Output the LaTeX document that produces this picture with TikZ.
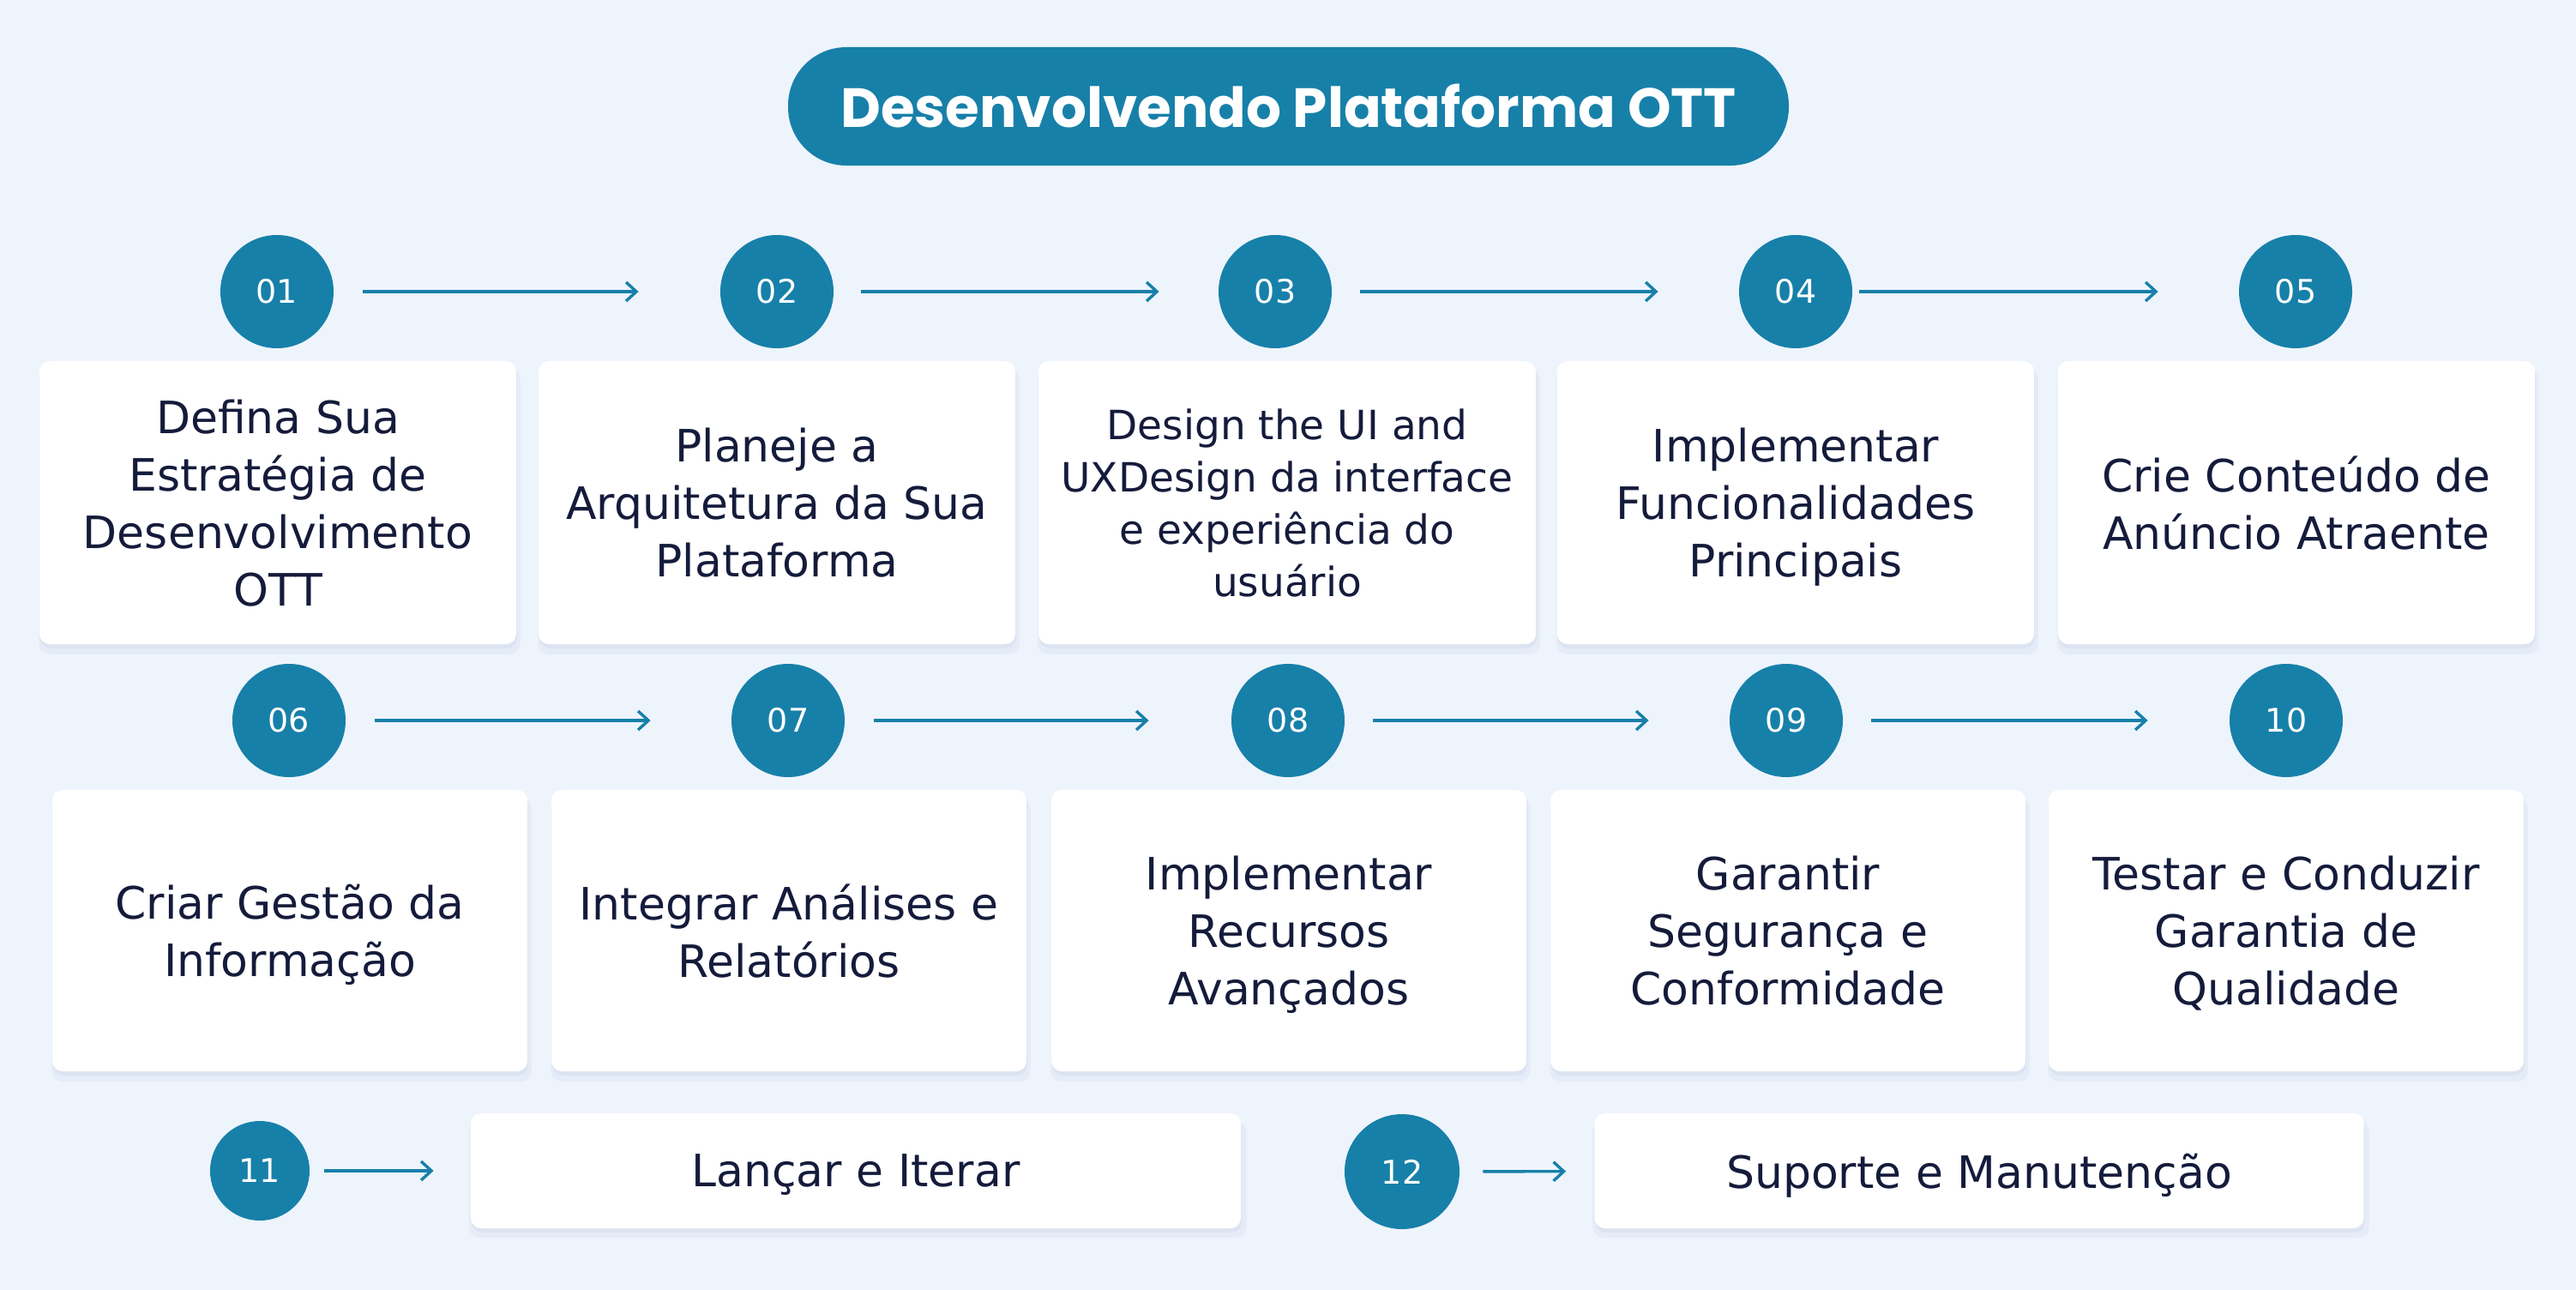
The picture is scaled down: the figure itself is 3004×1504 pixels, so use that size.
\documentclass[tikz,border=0pt]{standalone}
\usepackage{fontspec}
\setmainfont{DejaVu Sans}
\newfontfamily\titlefont{Poppins}
\usetikzlibrary{arrows.meta,shadows}
\definecolor{bg}{HTML}{EEF4FC}
\definecolor{ottblue}{HTML}{1780A9}
\definecolor{navy}{HTML}{151B3B}
\definecolor{shc}{HTML}{C3CCE4}
\tikzset{
  numc/.style={circle, fill=ottblue, text=white, minimum size=66pt, inner sep=0pt,
    font=\fontsize{19}{22}\selectfont},
  cardshadow/.style={
    general shadow={fill=shc, opacity=0.18, shadow xshift=1pt, shadow yshift=-5pt, shadow scale=1.01},
    general shadow={fill=shc, opacity=0.28, shadow xshift=0.5pt, shadow yshift=-2.5pt}},
  card/.style={rectangle, rounded corners=6pt, fill=white, text=navy, align=center,
    inner sep=0pt, text depth=0pt, font=\fontsize{26}{33.5}\selectfont, cardshadow,
    minimum width=278pt, minimum height=165pt},
  flow/.style={draw=ottblue, line width=1.7pt, -{Straight Barb[length=6pt,width=11pt]}},
  titlebox/.style={rectangle, rounded corners=34pt, fill=ottblue, text=white,
    minimum width=583.5pt, minimum height=69pt, inner sep=0pt,
    font=\titlefont\bfseries\fontsize{32.2}{38}\selectfont}
}
\begin{document}
\begin{tikzpicture}[x=0.5pt,y=-0.5pt]
\fill[bg] (0,0) rectangle (3004,1504);
\useasboundingbox (0,0) rectangle (3004,1504);

\node[titlebox] (t) at (1502.5,124) {Desenvolvendo Plataforma OTT};

% row 1
\node[numc] (c1) at (323,340) {01};
\node[numc] (c2) at (906,340) {02};
\node[numc] (c3) at (1487,340) {03};
\node[numc] (c4) at (2094,340) {04};
\node[numc] (c5) at (2677,340) {05};

\node[card] (b1) at (324,586) {Defina Sua\\Estratégia de\\Desenvolvimento\\OTT};
\node[card] (b2) at (906,586) {Planeje a\\Arquitetura da Sua\\Plataforma};
\node[card, minimum width=290pt, font=\fontsize{23.5}{30.5}\selectfont] (b3) at (1501,586)
  {Design the UI and\\UXDesign da interface\\e experiência do\\usuário};
\node[card] (b4) at (2094,586) {Implementar\\Funcionalidades\\Principais};
\node[card] (b5) at (2678,586) {Crie Conteúdo de\\Anúncio Atraente};

% row 2
\node[numc] (c6) at (337,840) {06};
\node[numc] (c7) at (919,840) {07};
\node[numc] (c8) at (1502,840) {08};
\node[numc] (c9) at (2083,840) {09};
\node[numc] (c10) at (2666,840) {10};

\node[card, minimum width=277pt, minimum height=164pt] (b6) at (338,1085) {Criar Gestão da\\Informação};
\node[card, minimum width=277pt, minimum height=164pt] (b7) at (920,1085) {Integrar Análises e\\Relatórios};
\node[card, minimum width=277pt, minimum height=164pt] (b8) at (1503,1085) {Implementar\\Recursos\\Avançados};
\node[card, minimum width=277pt, minimum height=164pt] (b9) at (2085,1085) {Garantir\\Segurança e\\Conformidade};
\node[card, minimum width=277pt, minimum height=164pt] (b10) at (2666,1085) {Testar e Conduzir\\Garantia de\\Qualidade};

% row 3
\node[numc, minimum size=58pt] (c11) at (303,1365) {11};
\node[numc, minimum size=67pt] (c12) at (1635,1366) {12};
\node[card, minimum width=449pt, minimum height=67pt] (b11) at (998,1365) {Lançar e Iterar};
\node[card, minimum width=448.5pt, minimum height=67pt] (b12) at (2308,1365) {Suporte e Manutenção};

% arrows
\draw[flow, shorten <=17pt, shorten >=47.5pt] (c1) -- (c2);
\draw[flow, shorten <=16pt, shorten >=34.5pt] (c2) -- (c3);
\draw[flow, shorten <=16.5pt, shorten >=47pt] (c3) -- (c4);
\draw[flow, shorten <=4pt, shorten >=47pt] (c4) -- (c5);
\draw[flow, shorten <=17pt, shorten >=47pt] (c6) -- (c7);
\draw[flow, shorten <=17pt, shorten >=48pt] (c7) -- (c8);
\draw[flow, shorten <=16.5pt, shorten >=47pt] (c8) -- (c9);
\draw[flow, shorten <=16.5pt, shorten >=47.5pt] (c9) -- (c10);
\draw[flow, shorten <=8.5pt, shorten >=21.5pt] (c11) -- (b11);
\draw[flow, shorten <=13.5pt, shorten >=16.5pt] (c12) -- (b12);
\end{tikzpicture}
\end{document}
